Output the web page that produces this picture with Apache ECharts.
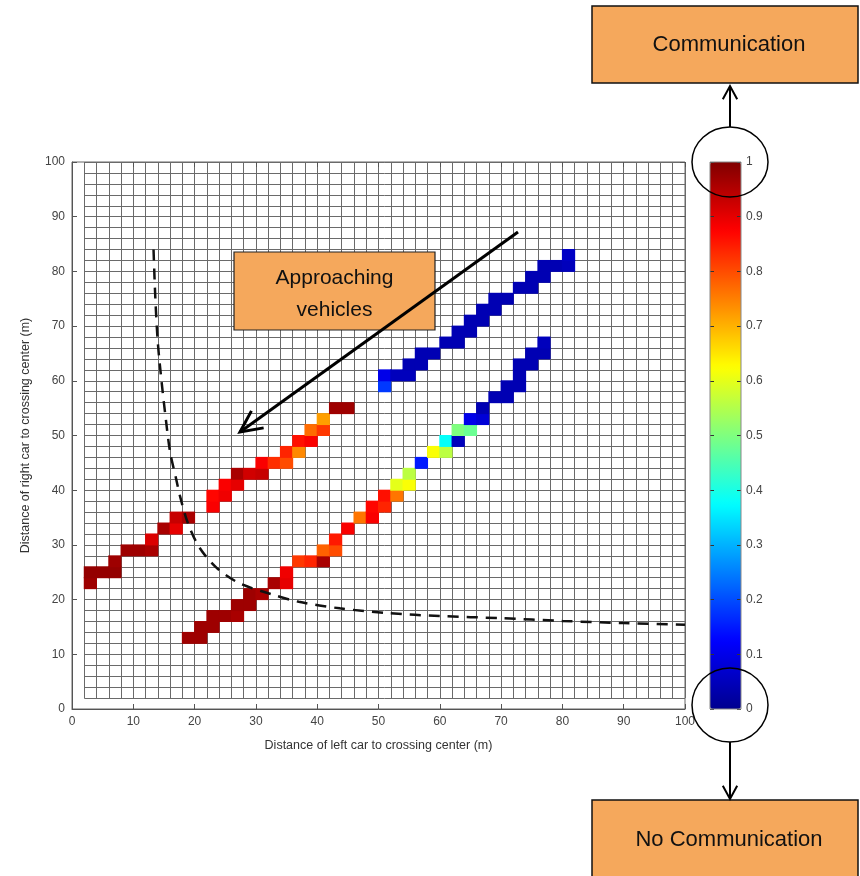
<!DOCTYPE html>
<html>
<head>
<meta charset="utf-8">
<script src="https://cdn.jsdelivr.net/npm/echarts@6/dist/echarts.min.js"></script>
<style>
html,body{margin:0;padding:0;background:#fff;}
#chart{width:860px;height:876px;}
</style>
</head>
<body>
<div id="chart"></div>
<script>
// ---- data (cell lower-left corner x, y in m; probability value) ----
const cellSize = 2;
const trackA_lower = [
  [2,22,0.97],[2,24,0.98],[4,24,0.98],[6,24,0.98],[6,26,0.97],[8,28,0.97],[10,28,0.97],
  [12,28,0.96],[12,30,0.91],[14,32,0.96],[16,32,0.9],[16,34,0.93],[18,34,0.96]
];
const trackA_upper = [
  [22,36,0.88],[22,38,0.87],[24,38,0.89],[24,40,0.88],[26,40,0.9],[26,42,0.96],[28,42,0.92],
  [30,42,0.93],[30,44,0.88],[32,44,0.83],[34,44,0.8],[34,46,0.84],[36,46,0.74],[36,48,0.86],
  [38,48,0.88],[38,50,0.77],[40,50,0.82],[40,52,0.72],[42,54,0.97],[44,54,0.97]
];
const trackB = [
  [18,12,0.97],[20,12,0.97],[20,14,0.97],[22,14,0.97],[22,16,0.97],[24,16,0.97],[26,16,0.96],
  [26,18,0.97],[28,18,0.97],[28,20,0.97],[30,20,0.96],[32,22,0.96],[34,22,0.9],[34,24,0.89],
  [36,26,0.82],[38,26,0.84],[40,26,0.96],[40,28,0.78],[42,28,0.8],[42,30,0.85],[44,32,0.88],
  [46,34,0.76],[48,34,0.88],[48,36,0.87],[50,36,0.84],[50,38,0.86],[52,38,0.76],[52,40,0.6],
  [54,40,0.62],[54,42,0.56],[56,44,0.15],[58,46,0.62],[60,46,0.56],[60,48,0.38],[62,48,0.05],
  [62,50,0.5],[64,50,0.48],[64,52,0.1],[66,52,0.08],[66,54,0.04],[68,56,0.04],[70,56,0.04],
  [70,58,0.04],[72,58,0.04],[72,60,0.04],[72,62,0.04],[74,62,0.04],[74,64,0.04],[76,64,0.04],
  [76,66,0.05]
];
const trackC = [
  [50,58,0.18],[50,60,0.1],[52,60,0.05],[54,60,0.05],[54,62,0.04],[56,62,0.04],[56,64,0.04],
  [58,64,0.04],[60,66,0.04],[62,66,0.04],[62,68,0.04],[64,68,0.04],[64,70,0.04],[66,70,0.04],
  [66,72,0.04],[68,72,0.04],[68,74,0.04],[70,74,0.04],[72,76,0.04],[74,76,0.04],[74,78,0.04],
  [76,78,0.04],[76,80,0.04],[78,80,0.04],[80,80,0.05],[80,82,0.06]
];
// dashed boundary curve
const boundaryX = [13.3,13.6,14.0,14.6,15.2,16.0,17.0,17.6,18.9,20.8,23.6,27.3,32.5,37.0,43.7,51.8,60,70,80,90,100];
const boundaryY = [84,75,67,60,54,47,42,39,34,29.5,25.8,23,21,19.6,18.4,17.5,17.0,16.6,16.1,15.7,15.4];
// axes
const axisMin = 0, axisMax = 100, axisStep = 10;
const cbMin = 0, cbMax = 1, cbStep = 0.1;
const jetColors = ['#00008F','#0000FF','#007FFF','#00FFFF','#7FFF7F','#FFFF00','#FF7F00','#FF0000','#800000'];
const xTitle = 'Distance of left car to crossing center (m)';
const yTitle = 'Distance of right car to crossing center (m)';

// ---- layout ----
const P = {left:72, top:162, width:613, height:547};
const CB = {left:710, top:162, width:31, height:547};
const font = 'Liberation Sans, Arial, sans-serif';
const boxFill = '#F5A85C';

const cells = trackA_lower.concat(trackA_upper, trackB, trackC);
const boundary = boundaryX.map((x,i)=>[x, boundaryY[i]]);

const chart = echarts.init(document.getElementById('chart'), null, {renderer:'canvas'});

function arrowHead(x1,y1,x2,y2,len,ang){
  const dx=x2-x1, dy=y2-y1, L=Math.hypot(dx,dy), ux=dx/L, uy=dy/L;
  const c=Math.cos(ang), s=Math.sin(ang);
  const a=[x2-len*(ux*c-uy*s), y2-len*(uy*c+ux*s)];
  const b=[x2-len*(ux*c+uy*s), y2-len*(uy*c-ux*s)];
  return [a,[x2,y2],b];
}

const latLeft = P.left + P.width*(2-axisMin)/(axisMax-axisMin);
const latWidth = P.width*(axisMax-2)/(axisMax-axisMin);
const latHeight = P.height*(axisMax-2)/(axisMax-axisMin);

const tickLabel = {fontFamily:font, fontSize:12, color:'#444'};
const TICK = {show:true, inside:true, length:5, lineStyle:{color:'#555', width:1}};
const CBTICK = {show:true, inside:true, length:4, lineStyle:{color:'#333', width:1}};

const option = {
  backgroundColor:'#fff',
  animation:false,
  grid:[
    {left:P.left, top:P.top, width:P.width, height:P.height, show:true, borderColor:'#666', borderWidth:1, backgroundColor:'transparent'},
    {left:latLeft, top:P.top, width:latWidth, height:latHeight},
    {left:CB.left, top:CB.top, width:CB.width, height:CB.height}
  ],
  xAxis:[
    {type:'value', gridIndex:0, min:axisMin, max:axisMax, interval:axisStep, z:5,
     axisLine:{show:true, onZero:false, lineStyle:{color:'#555'}},
     axisTick:TICK,
     axisLabel:Object.assign({margin:7}, tickLabel),
     splitLine:{show:false},
     name:xTitle, nameLocation:'middle', nameGap:30,
     nameTextStyle:{fontFamily:font, fontSize:12.5, color:'#333'}},
    {type:'value', gridIndex:1, min:2, max:axisMax, interval:cellSize, show:true,
     axisLine:{show:false, onZero:false}, axisTick:{show:false}, axisLabel:{show:false},
     splitLine:{show:true, lineStyle:{color:'#6a6a6a', width:1}}},
    {type:'value', gridIndex:2, min:0, max:1, show:false, axisLine:{onZero:false}},
    {type:'value', gridIndex:0, min:axisMin, max:axisMax, interval:axisStep, position:'top', z:5,
     axisLine:{show:false, onZero:false}, axisTick:TICK,
     axisLabel:{show:false}, splitLine:{show:false}}
  ],
  yAxis:[
    {type:'value', gridIndex:0, min:axisMin, max:axisMax, interval:axisStep, z:5,
     axisLine:{show:true, onZero:false, lineStyle:{color:'#555'}},
     axisTick:TICK,
     axisLabel:Object.assign({margin:7}, tickLabel),
     splitLine:{show:false},
     name:yTitle, nameLocation:'middle', nameGap:40,
     nameTextStyle:{fontFamily:font, fontSize:12.5, color:'#333'}},
    {type:'value', gridIndex:1, min:2, max:axisMax, interval:cellSize, show:true,
     axisLine:{show:false, onZero:false}, axisTick:{show:false}, axisLabel:{show:false},
     splitLine:{show:true, lineStyle:{color:'#6a6a6a', width:1}}},
    {type:'value', gridIndex:2, min:cbMin, max:cbMax, interval:cbStep, position:'right', z:10,
     axisLine:{show:false, onZero:false},
     axisTick:CBTICK,
     axisLabel:Object.assign({margin:5}, tickLabel),
     splitLine:{show:false}},
    {type:'value', gridIndex:2, min:cbMin, max:cbMax, interval:cbStep, position:'left', z:10,
     axisLine:{show:false, onZero:false},
     axisTick:CBTICK,
     axisLabel:{show:false}, splitLine:{show:false}},
    {type:'value', gridIndex:0, min:axisMin, max:axisMax, interval:axisStep, position:'right', z:5,
     axisLine:{show:false, onZero:false}, axisTick:TICK,
     axisLabel:{show:false}, splitLine:{show:false}}
  ],
  visualMap:{
    type:'continuous', min:cbMin, max:cbMax, seriesIndex:0, dimension:2, z:1,
    calculable:false, realtime:false, hoverLink:false,
    left:CB.left, top:CB.top, itemWidth:CB.width, itemHeight:CB.height,
    padding:0, text:null, showLabel:false,
    inRange:{color:jetColors}
  },
  series:[
    {type:'custom', xAxisIndex:0, yAxisIndex:0, z:3, data:cells,
     renderItem:function(params, api){
       const x0 = api.value(0), y0 = api.value(1);
       const p = api.coord([x0, y0+cellSize]);
       const s = api.size([cellSize, cellSize]);
       return {type:'rect', shape:{x:p[0]-0.5, y:p[1]-0.5, width:s[0]+1, height:s[1]+1},
               style:{fill:api.visual('color')}};
     }},
    {type:'line', xAxisIndex:0, yAxisIndex:0, z:6, data:boundary, smooth:0.3,
     showSymbol:false, symbol:'none',
     lineStyle:{color:'#111', width:2.5, type:[11,8]}}
  ],
  graphic:[
    {type:'rect', z:100, shape:{x:CB.left, y:CB.top, width:CB.width, height:CB.height},
     style:{fill:null, stroke:'#888', lineWidth:1}},
    {type:'rect', z:100, shape:{x:234, y:252, width:201, height:78},
     style:{fill:boxFill, stroke:'#222', lineWidth:1.2}},
    {type:'text', z:101, style:{x:334.5, y:294, text:'Approaching\nvehicles', align:'center', verticalAlign:'middle',
      font:'21px '+font, fill:'#111', lineHeight:32}},
    {type:'line', z:102, shape:{x1:518, y1:232, x2:240, y2:432}, style:{stroke:'#000', lineWidth:3}},
    {type:'polyline', z:102, shape:{points:arrowHead(518,232,240,432,24,0.45)}, style:{stroke:'#000', lineWidth:3, fill:null}},
    {type:'rect', z:100, shape:{x:592, y:6, width:266, height:77},
     style:{fill:boxFill, stroke:'#111', lineWidth:1.5}},
    {type:'text', z:101, style:{x:729, y:45, text:'Communication', align:'center', verticalAlign:'middle',
      font:'22px '+font, fill:'#111'}},
    {type:'rect', z:100, shape:{x:592, y:800, width:266, height:80},
     style:{fill:boxFill, stroke:'#111', lineWidth:1.5}},
    {type:'text', z:101, style:{x:729, y:840, text:'No Communication', align:'center', verticalAlign:'middle',
      font:'22px '+font, fill:'#111'}},
    {type:'ellipse', z:103, shape:{cx:730, cy:162, rx:38, ry:35}, style:{fill:null, stroke:'#000', lineWidth:1.5}},
    {type:'ellipse', z:103, shape:{cx:730, cy:705, rx:38, ry:37}, style:{fill:null, stroke:'#000', lineWidth:1.5}},
    {type:'line', z:103, shape:{x1:730, y1:127, x2:730, y2:86}, style:{stroke:'#000', lineWidth:2}},
    {type:'polyline', z:103, shape:{points:arrowHead(730,127,730,86,15,0.5)}, style:{stroke:'#000', lineWidth:2, fill:null}},
    {type:'line', z:103, shape:{x1:730, y1:742, x2:730, y2:799}, style:{stroke:'#000', lineWidth:2}},
    {type:'polyline', z:103, shape:{points:arrowHead(730,742,730,799,15,0.5)}, style:{stroke:'#000', lineWidth:2, fill:null}}
  ]
};
chart.setOption(option);
</script>
</body>
</html>
